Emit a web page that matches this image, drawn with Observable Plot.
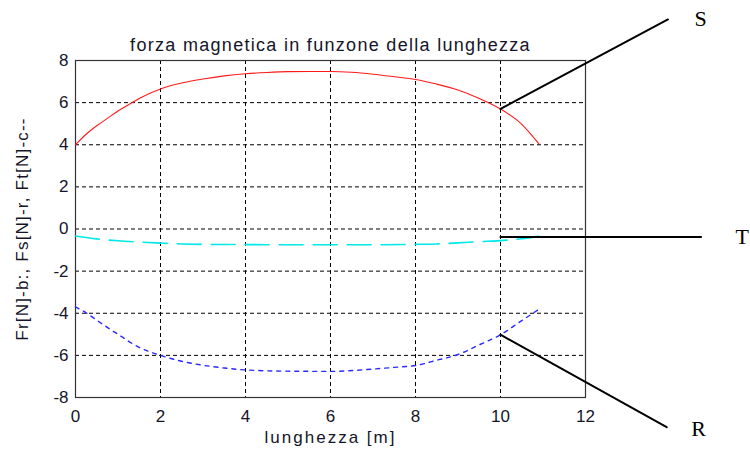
<!DOCTYPE html>
<html>
<head>
<meta charset="utf-8">
<script src="https://cdn.jsdelivr.net/npm/d3@7"></script>
<script src="https://cdn.jsdelivr.net/npm/@observablehq/plot@0.6"></script>
<style>
  html, body { margin: 0; padding: 0; background: #fff; }
</style>
</head>
<body>
<div id="chart"></div>
<script>
// ---- data ----
const titleText = "forza magnetica in funzone della lunghezza";
const xLabel = "lunghezza [m]";
const yLabel = "Fr[N]-b:, Fs[N]-r, Ft[N]-c--";

const xTicks = [0, 2, 4, 6, 8, 10, 12];
const yTicks = [-8, -6, -4, -2, 0, 2, 4, 6, 8];

// Fs (red, solid)
const fsX = [0, 0.25, 0.5, 0.75, 1, 1.25, 1.5, 2, 2.5, 3, 3.5, 4, 4.5, 5, 5.5, 6, 6.5, 7, 7.5, 8, 8.5, 9, 9.5, 10, 10.5, 10.9];
const fsY = [4.0, 4.5, 4.9, 5.25, 5.6, 5.9, 6.2, 6.65, 6.93, 7.12, 7.27, 7.37, 7.43, 7.47, 7.48, 7.48, 7.44, 7.35, 7.23, 7.1, 6.88, 6.6, 6.2, 5.7, 4.97, 4.05];

// Ft (cyan, dashed)
const ftX = [0, 0.5, 1, 1.5, 2, 2.5, 3, 4, 5, 6, 7, 8, 8.5, 9, 9.5, 10, 10.5, 10.9];
const ftY = [-0.33, -0.47, -0.56, -0.62, -0.67, -0.71, -0.73, -0.74, -0.75, -0.75, -0.75, -0.73, -0.71, -0.66, -0.6, -0.55, -0.46, -0.35];

// Fr (blue, dotted)
const frX = [0, 0.25, 0.5, 1, 1.5, 2, 2.5, 3, 3.5, 4, 5, 6, 7, 7.5, 8, 8.5, 9, 9.5, 10, 10.5, 10.9];
const frY = [-3.7, -3.98, -4.33, -5.0, -5.62, -6.0, -6.28, -6.47, -6.6, -6.69, -6.75, -6.76, -6.65, -6.57, -6.48, -6.23, -5.96, -5.5, -5.02, -4.35, -3.82];

// annotation leaders (data coordinates) and letters
const annoNames = ["S", "T", "R"];
const annoFromX = [10, 10, 10];
const annoFromY = [5.7, -0.38, -5.02];
const annoToX = [13.94, 14.72, 13.91];
const annoToY = [9.95, -0.38, -9.41];
const annoTextX = [14.71, 15.69, 14.66];
const annoTextY = [9.95, -0.38, -9.47];

// ---- build tables ----
const zip = (xs, ys, name) => xs.map((x, i) => ({x, y: ys[i], name}));
const fs = zip(fsX, fsY, "Fs");
const ft = zip(ftX, ftY, "Ft");
const fr = zip(frX, frY, "Fr");
const leaders = annoNames.flatMap((n, i) => [
  {name: n, x: annoFromX[i], y: annoFromY[i]},
  {name: n, x: annoToX[i], y: annoToY[i]}
]);
const letters = annoNames.map((n, i) => ({name: n, x: annoTextX[i], y: annoTextY[i]}));

const font = "Arial, 'Liberation Sans', Helvetica, sans-serif";
const textColor = "#15152a";
const fmt = d => (d < 0 ? "-" + Math.abs(d) : String(d));

const chart = Plot.plot({
  width: 750,
  height: 459,
  marginLeft: 75,
  marginRight: 165,
  marginTop: 60,
  marginBottom: 62,
  style: {fontFamily: font, fontSize: "18px", color: textColor, background: "#fff"},
  x: {domain: [0, 12]},
  y: {domain: [-8, 8]},
  marks: [
    Plot.ruleX(xTicks.filter(d => d > 0 && d < 12), {stroke: "#000", strokeWidth: 1, strokeDasharray: "4,3"}),
    Plot.ruleY(yTicks.filter(d => d > -8 && d < 8), {stroke: "#000", strokeWidth: 1, strokeDasharray: "4,3"}),
    Plot.frame({stroke: "#333", strokeWidth: 1.2}),
    Plot.line(fs, {x: "x", y: "y", stroke: "#ff1a1a", strokeWidth: 1.1, curve: "monotone-x"}),
    Plot.line(ft, {x: "x", y: "y", stroke: "#00e8e8", strokeWidth: 1.6, strokeDasharray: "24,10", curve: "monotone-x"}),
    Plot.line(fr, {x: "x", y: "y", stroke: "#2a2aff", strokeWidth: 1.4, strokeDasharray: "4,5", curve: "monotone-x"}),
    Plot.line(leaders, {x: "x", y: "y", z: "name", stroke: "#000", strokeWidth: 2}),
    Plot.text(letters, {x: "x", y: "y", text: "name", fontFamily: "'Liberation Serif', 'Times New Roman', serif", fontSize: 22, fill: "#000", textAnchor: "middle"}),
    Plot.axisX({ticks: xTicks, tickFormat: fmt, tickSize: 0, tickPadding: 12, label: null, fontSize: 17}),
    Plot.axisY({ticks: yTicks, tickFormat: fmt, tickSize: 0, tickPadding: 7, label: null, fontSize: 17}),
    Plot.text([xLabel], {frameAnchor: "bottom", dy: 45, fontSize: 17, fill: textColor}),
    Plot.text([yLabel], {frameAnchor: "left", textAnchor: "middle", dx: -53, rotate: -90, fontSize: 17, fill: textColor}),
    Plot.text([titleText], {frameAnchor: "top", dy: -22, fontSize: 18, fill: textColor})
  ]
});
// widen the label/title letter spacing like the reference's stretched font
d3.select(chart).selectAll("text").each(function() {
  const t = this.textContent;
  if (t === titleText) this.setAttribute("letter-spacing", "1.3");
  else if (t === xLabel) this.setAttribute("letter-spacing", "2");
  else if (t === yLabel) this.setAttribute("letter-spacing", "1.2");
});
document.getElementById("chart").appendChild(chart);
</script>
</body>
</html>
